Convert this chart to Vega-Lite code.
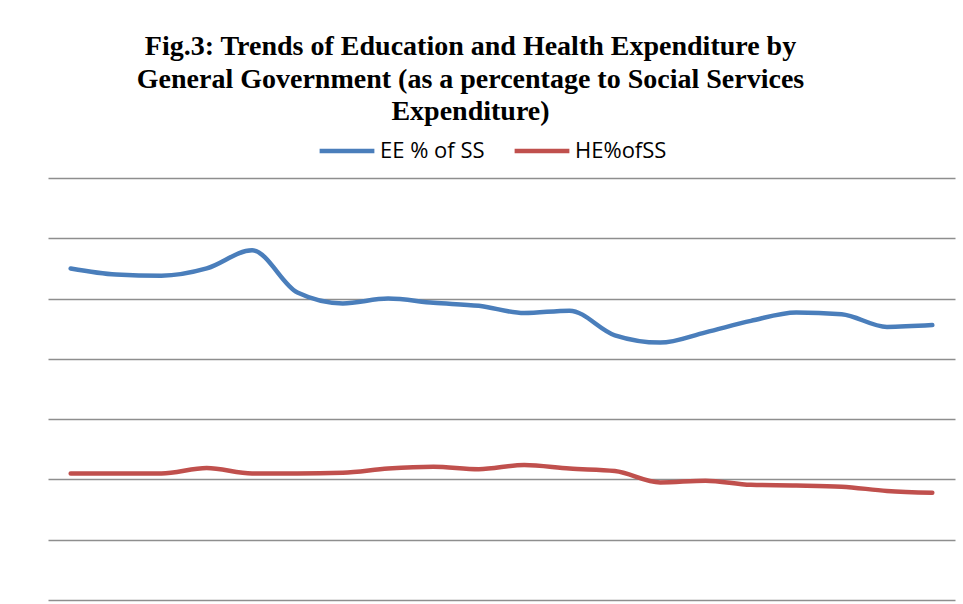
{
  "$schema": "https://vega.github.io/schema/vega-lite/v6.json",
  "width": 907,
  "height": 422,
  "autosize": {"type": "none"},
  "padding": {"left": 48, "top": 178, "right": 8, "bottom": 4},
  "background": "white",
  "title": {
    "text": ["Fig.3: Trends of Education and Health Expenditure by", "General Government (as a percentage to Social Services", "Expenditure)"],
    "font": "Liberation Serif",
    "fontSize": 28,
    "fontWeight": "bold",
    "lineHeight": 32.5,
    "color": "black",
    "anchor": "middle",
    "dx": -31,
    "offset": -5
  },
  "data": {
    "values": [
      {"i": 1, "s": "EE % of SS", "v": 55.0},
      {"i": 2, "s": "EE % of SS", "v": 54.0},
      {"i": 3, "s": "EE % of SS", "v": 53.8},
      {"i": 4, "s": "EE % of SS", "v": 55.0},
      {"i": 5, "s": "EE % of SS", "v": 58.0},
      {"i": 6, "s": "EE % of SS", "v": 51.0},
      {"i": 7, "s": "EE % of SS", "v": 49.2},
      {"i": 8, "s": "EE % of SS", "v": 50.0},
      {"i": 9, "s": "EE % of SS", "v": 49.3},
      {"i": 10, "s": "EE % of SS", "v": 48.8},
      {"i": 11, "s": "EE % of SS", "v": 47.6},
      {"i": 12, "s": "EE % of SS", "v": 48.0},
      {"i": 13, "s": "EE % of SS", "v": 43.9},
      {"i": 14, "s": "EE % of SS", "v": 42.7},
      {"i": 15, "s": "EE % of SS", "v": 44.4},
      {"i": 16, "s": "EE % of SS", "v": 46.3},
      {"i": 17, "s": "EE % of SS", "v": 47.7},
      {"i": 18, "s": "EE % of SS", "v": 47.4},
      {"i": 19, "s": "EE % of SS", "v": 45.3},
      {"i": 20, "s": "EE % of SS", "v": 45.6},
      {"i": 1, "s": "HE%ofSS", "v": 21.0},
      {"i": 2, "s": "HE%ofSS", "v": 21.0},
      {"i": 3, "s": "HE%ofSS", "v": 21.0},
      {"i": 4, "s": "HE%ofSS", "v": 21.9},
      {"i": 5, "s": "HE%ofSS", "v": 21.0},
      {"i": 6, "s": "HE%ofSS", "v": 21.0},
      {"i": 7, "s": "HE%ofSS", "v": 21.1},
      {"i": 8, "s": "HE%ofSS", "v": 21.8},
      {"i": 9, "s": "HE%ofSS", "v": 22.1},
      {"i": 10, "s": "HE%ofSS", "v": 21.7},
      {"i": 11, "s": "HE%ofSS", "v": 22.4},
      {"i": 12, "s": "HE%ofSS", "v": 21.8},
      {"i": 13, "s": "HE%ofSS", "v": 21.4},
      {"i": 14, "s": "HE%ofSS", "v": 19.5},
      {"i": 15, "s": "HE%ofSS", "v": 19.8},
      {"i": 16, "s": "HE%ofSS", "v": 19.1},
      {"i": 17, "s": "HE%ofSS", "v": 19.0},
      {"i": 18, "s": "HE%ofSS", "v": 18.8},
      {"i": 19, "s": "HE%ofSS", "v": 18.1},
      {"i": 20, "s": "HE%ofSS", "v": 17.8}
    ]
  },
  "mark": {"type": "line", "interpolate": "monotone", "strokeWidth": 4.5, "strokeCap": "round"},
  "encoding": {
    "x": {"field": "i", "type": "ordinal", "axis": null},
    "y": {
      "field": "v",
      "type": "quantitative",
      "scale": {"domain": [0, 70], "nice": false, "zero": true},
      "axis": {"values": [0, 10, 20, 30, 40, 50, 60, 70], "labels": false, "ticks": false, "domain": false, "title": null, "grid": true, "gridColor": "#8e8e8e", "gridWidth": 1.5, "gridOpacity": 1}
    },
    "color": {
      "field": "s",
      "type": "nominal",
      "scale": {"domain": ["EE % of SS", "HE%ofSS"], "range": ["#4A7EBB", "#C0504D"]},
      "legend": {
        "orient": "none",
        "legendX": 269,
        "legendY": -57,
        "direction": "horizontal",
        "title": null,
        "symbolType": "stroke",
        "symbolSize": 3000,
        "symbolStrokeWidth": 4.5,
        "labelFont": "Open Sans",
        "labelFontSize": 22,
        "labelColor": "black",
        "labelOffset": 3,
        "columnPadding": 20
      }
    }
  },
  "config": {"view": {"stroke": null}}
}
